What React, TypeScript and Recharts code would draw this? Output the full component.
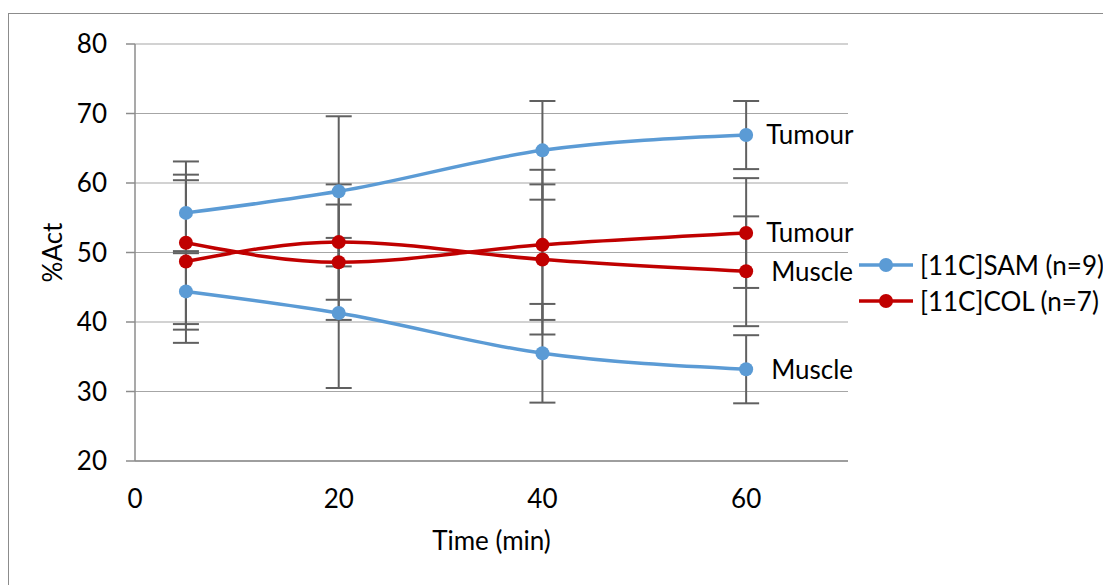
import React from "react";
import {
  LineChart,
  Line,
  XAxis,
  YAxis,
  CartesianGrid,
  ErrorBar,
  LabelList,
  Label,
} from "recharts";

// ---- Data ----
const times = [5, 20, 40, 60];
const samTumour = [55.7, 58.8, 64.7, 66.9];
const samTumourErr = [5.5, 10.8, 7.1, 4.9];
const samMuscle = [44.4, 41.3, 35.5, 33.2];
const samMuscleErr = [5.5, 10.8, 7.1, 4.9];
const colTumour = [51.4, 48.6, 51.1, 52.8];
const colTumourErr = [11.7, 8.3, 10.8, 7.9];
const colMuscle = [48.7, 51.5, 49.0, 47.3];
const colMuscleErr = [11.7, 8.3, 10.8, 7.9];

const xTicks = [0, 20, 40, 60];
const yTicks = [20, 30, 40, 50, 60, 70, 80];
const legendNames = ["[11C]SAM (n=9)", "[11C]COL (n=7)"];
const endLabels = { tumour: "Tumour", muscle: "Muscle" };
const xTitle = "Time (min)";
const yTitle = "%Act";

const SAM_COLOR = "#5B9BD5";
const COL_COLOR = "#C00000";
const FONT = "Lato, 'Liberation Sans', sans-serif";
const FS = 26;

const data = times.map((t, i) => ({
  time: t,
  samT: samTumour[i],
  samTErr: samTumourErr[i],
  samM: samMuscle[i],
  samMErr: samMuscleErr[i],
  colT: colTumour[i],
  colTErr: colTumourErr[i],
  colM: colMuscle[i],
  colMErr: colMuscleErr[i],
}));

const makeEndLabel = (text: string, dx: number) => (props: any) => {
  const { x, y, index } = props;
  if (index !== times.length - 1) return null;
  return (
    <text
      x={Number(x) + dx}
      y={Number(y)}
      dy="0.36em"
      textAnchor="start"
      fontSize={FS}
      fontFamily={FONT}
      fill="#000"
    >
      {text}
    </text>
  );
};

const series = [
  { key: "samT", err: "samTErr", color: SAM_COLOR, label: endLabels.tumour, dx: 20 },
  { key: "samM", err: "samMErr", color: SAM_COLOR, label: endLabels.muscle, dx: 25 },
  { key: "colT", err: "colTErr", color: COL_COLOR, label: endLabels.tumour, dx: 20 },
  { key: "colM", err: "colMErr", color: COL_COLOR, label: endLabels.muscle, dx: 25 },
];

const legendItems = [
  { name: legendNames[0], color: SAM_COLOR },
  { name: legendNames[1], color: COL_COLOR },
];

export default function App() {
  return (
    <div
      style={{
        position: "fixed",
        left: 0,
        top: 0,
        width: 1103,
        height: 585,
        overflow: "hidden",
        background: "#fff",
        fontFamily: FONT,
      }}
    >
      <div
        style={{
          position: "absolute",
          left: 8,
          top: 13,
          width: 1200,
          height: 700,
          border: "1px solid #8c8c8c",
        }}
      />
      <div style={{ position: "absolute", left: 0, top: 0 }}>
        <LineChart
          width={1103}
          height={585}
          data={data}
          margin={{ top: 44, right: 255, bottom: 0, left: 0 }}
          style={{ fontFamily: FONT }}
        >
          <CartesianGrid
            horizontal={true}
            vertical={false}
            stroke="#a6a6a6"
            strokeWidth={1.2}
          />
          <XAxis
            dataKey="time"
            type="number"
            domain={[0, 70]}
            ticks={xTicks}
            height={124}
            tickLine={false}
            tickSize={0}
            tickMargin={29}
            axisLine={{ stroke: "#8c8c8c", strokeWidth: 1.5 }}
            tick={{ fontSize: FS, fill: "#000", fontFamily: FONT }}
          >
            <Label
              value={xTitle}
              position="insideBottom"
              offset={35}
              style={{ fontSize: FS, fill: "#000", fontFamily: FONT }}
            />
          </XAxis>
          <YAxis
            type="number"
            domain={[20, 80]}
            ticks={yTicks}
            width={135}
            tickSize={9}
            tickMargin={19}
            tickLine={{ stroke: "#8c8c8c", strokeWidth: 1.5 }}
            axisLine={{ stroke: "#8c8c8c", strokeWidth: 1.5 }}
            tick={{ fontSize: FS, fill: "#000", fontFamily: FONT }}
          >
            <Label
              content={(props: any) => {
                const vb = props.viewBox || { x: 0, y: 44, width: 135, height: 417 };
                const cx = vb.x + 53;
                const cy = vb.y + vb.height / 2;
                return (
                  <text
                    x={cx}
                    y={cy}
                    dy="0.36em"
                    transform={`rotate(-90 ${cx} ${cy})`}
                    textAnchor="middle"
                    fontSize={FS}
                    fontFamily={FONT}
                    fill="#000"
                  >
                    {yTitle}
                  </text>
                );
              }}
            />
          </YAxis>
          {series.map((s) => (
            <Line
              key={s.key}
              dataKey={s.key}
              type="monotone"
              stroke={s.color}
              strokeWidth={3.5}
              dot={{ r: 7, fill: s.color, stroke: s.color, strokeWidth: 0 }}
              activeDot={false}
              isAnimationActive={false}
            >
              <ErrorBar
                dataKey={s.err}
                direction="y"
                width={13}
                strokeWidth={2}
                stroke="#606060"
              />
              <LabelList dataKey={s.key} content={makeEndLabel(s.label, s.dx)} />
            </Line>
          ))}
        </LineChart>
      </div>
      <div style={{ position: "absolute", left: 859, top: 247 }}>
        {legendItems.map((it) => (
          <div
            key={it.name}
            style={{
              display: "flex",
              alignItems: "center",
              height: 36,
              lineHeight: "36px",
              fontSize: FS,
              color: "#000",
              whiteSpace: "nowrap",
            }}
          >
            <svg width={54} height={16} style={{ display: "block" }}>
              <line x1={0} y1={8} x2={54} y2={8} stroke={it.color} strokeWidth={3.5} />
              <circle cx={27} cy={8} r={7} fill={it.color} />
            </svg>
            <span style={{ marginLeft: 7 }}>{it.name}</span>
          </div>
        ))}
      </div>
    </div>
  );
}
